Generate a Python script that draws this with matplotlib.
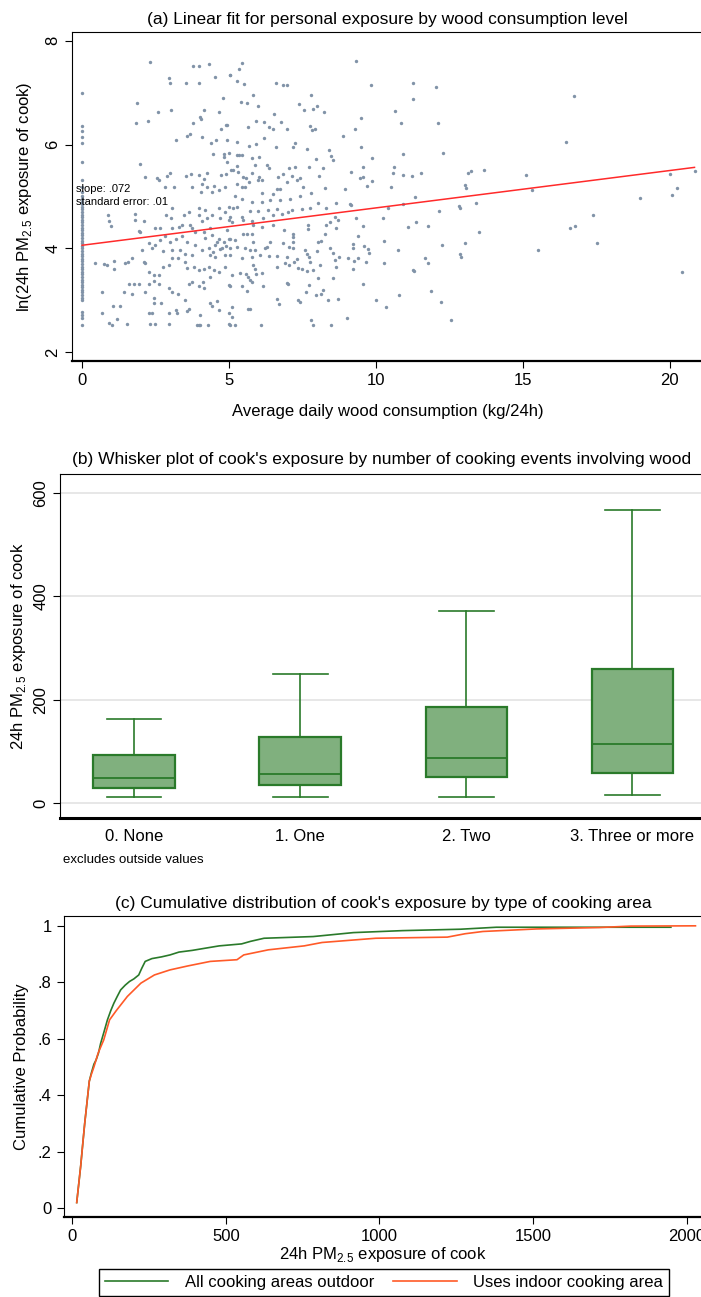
import numpy as np
import matplotlib
matplotlib.use('Agg')
import matplotlib.pyplot as plt
from matplotlib.lines import Line2D

plt.rcParams['font.family'] = ['Liberation Sans Narrow', 'Liberation Sans', 'DejaVu Sans']

# (a) 散点: 木柴消耗量 vs ln(PM2.5)
zero_use_ln = [7.0, 6.36, 6.26, 6.15, 6.04, 5.66, 5.32, 5.18, 5.08,
               5.0, 4.95, 4.9, 4.85, 4.8, 4.75, 4.7, 4.65, 4.6, 4.55, 4.5, 4.45, 4.4,
               4.35, 4.3, 4.25, 4.2, 4.15, 4.1, 4.05, 4.0, 3.95, 3.9, 3.85, 3.8, 3.75,
               3.7, 3.65, 3.6, 3.55, 3.5, 3.45, 3.4, 3.35, 3.3, 3.25, 3.2, 3.15, 3.1,
               3.05, 3.0, 2.78, 2.72, 2.65, 2.53]

wood_pts = [
    (2.31, 7.60), (2.95, 7.28), (2.99, 7.18), (3.55, 7.18), (3.76, 7.52), (3.98, 7.52), (4.33, 7.56),
    (3.97, 7.19), (4.54, 7.31), (5.04, 7.34), (1.88, 6.80), (2.57, 6.62), (3.02, 6.66), (1.84, 6.42),
    (2.23, 6.46), (4.15, 6.67), (4.00, 6.53), (4.05, 6.50), (3.76, 6.42), (4.65, 6.62), (4.80, 6.89),
    (4.72, 6.31), (4.91, 6.37), (4.95, 6.38), (3.21, 6.09), (3.57, 6.17), (3.69, 6.21), (4.08, 6.14),
    (4.40, 6.03), (4.55, 6.08), (4.94, 6.08), (1.98, 5.63), (4.44, 5.82), (4.82, 5.82), (4.84, 5.77),
    (4.99, 5.83), (4.93, 5.67), (2.14, 5.38), (2.56, 5.36), (2.63, 5.31), (2.90, 5.39), (2.98, 5.46),
    (2.83, 5.19), (3.12, 5.18), (3.54, 5.40), (3.71, 5.43), (3.97, 5.41), (4.25, 5.46), (4.14, 5.34),
    (4.08, 5.25), (3.74, 5.19), (4.25, 5.19), (4.48, 5.20), (4.74, 5.41), (4.91, 5.43), (4.65, 5.13),
    (4.87, 5.19), (5.08, 5.51), (4.06, 5.08), (4.42, 5.09),
    (0.88, 4.64), (0.91, 4.53), (1.00, 4.43), (1.81, 4.66), (1.79, 4.55), (2.10, 4.53), (2.87, 4.64),
    (3.03, 4.59), (3.46, 4.64), (3.40, 4.46), (3.29, 4.42), (1.93, 4.33), (1.98, 4.31), (2.49, 4.39),
    (0.45, 3.71), (0.74, 3.70), (0.85, 3.67), (1.08, 3.76), (1.08, 3.60), (1.47, 3.71), (1.55, 3.74),
    (1.70, 3.81), (2.10, 3.74), (2.15, 3.71), (2.29, 3.55), (2.44, 3.49), (2.63, 3.49), (2.74, 3.65),
    (2.95, 3.68), (3.06, 3.82), (3.27, 3.81), (3.51, 3.74), (3.57, 3.63), (3.80, 3.65), (3.97, 3.58),
    (4.14, 3.60), (4.31, 3.65), (4.48, 3.58), (4.65, 3.55), (4.87, 3.65), (1.59, 3.31), (1.76, 3.31),
    (1.95, 3.31), (1.42, 3.16), (1.70, 3.13), (2.29, 3.31), (2.15, 3.15), (2.44, 3.37), (2.63, 3.31),
    (2.95, 3.24), (3.06, 3.16), (3.27, 3.13), (3.63, 3.31), (3.74, 3.35), (3.97, 3.28), (4.11, 3.35),
    (4.14, 3.23), (4.37, 3.45), (4.99, 3.29), (2.44, 3.04), (2.70, 2.94), (2.46, 2.94), (2.95, 2.75),
    (3.18, 2.81), (3.23, 2.75), (3.51, 3.00), (3.57, 2.79), (3.63, 2.84), (4.03, 2.71), (4.37, 2.94),
    (4.42, 2.89), (4.59, 2.99), (4.65, 2.81), (0.68, 3.16), (0.68, 2.75), (1.04, 2.89), (1.30, 2.89),
    (1.19, 2.64), (0.91, 2.57), (1.02, 2.53), (1.53, 2.54), (2.29, 2.75), (2.38, 2.75), (2.32, 2.54),
    (2.47, 2.55), (2.95, 2.54), (3.91, 2.53), (3.97, 2.53), (4.03, 2.53), (4.29, 2.53), (4.99, 2.54),
    (5.01, 2.75), (3.97, 4.77), (4.20, 4.74), (3.97, 4.64), (4.25, 4.58), (4.08, 4.52), (4.42, 4.64),
    (4.65, 4.77), (4.87, 4.71), (4.99, 4.80), (4.71, 4.58), (4.99, 4.55), (3.68, 4.45), (3.74, 4.39),
    (3.85, 4.32), (4.14, 4.32), (4.42, 4.26), (4.65, 4.19), (4.82, 4.13), (4.99, 4.19), (4.53, 4.06),
    (4.76, 4.00), (4.31, 4.00), (4.08, 3.97), (3.85, 4.06), (3.57, 4.13), (3.40, 4.23), (3.18, 4.19),
    (3.00, 4.13), (2.83, 4.23), (2.66, 4.16), (2.49, 4.06), (2.38, 4.00), (2.27, 4.10), (2.04, 3.97),
    (3.34, 3.97), (3.51, 3.90), (3.74, 3.87), (4.37, 3.87), (4.53, 3.84), (4.87, 3.87), (5.05, 4.00),
    (3.06, 3.97), (2.77, 3.94), (2.66, 4.39), (3.06, 4.39), (3.63, 4.71), (3.06, 4.77),
    (4.60, 4.12), (4.70, 3.98), (4.45, 3.93), (4.20, 4.20), (4.90, 4.05), (4.35, 4.40), (4.95, 4.35),
    (5.03, 7.34), (5.45, 7.58), (5.35, 7.45), (5.28, 7.23), (5.51, 7.17), (6.60, 7.18), (6.85, 7.15),
    (6.98, 7.15), (9.34, 7.62), (9.85, 7.14), (5.81, 6.96), (5.41, 6.82), (5.60, 6.80), (5.98, 6.75),
    (7.80, 6.96), (7.39, 6.78), (7.54, 6.67), (7.85, 6.68), (8.00, 6.75), (8.25, 6.62), (6.54, 6.59),
    (5.91, 6.46), (6.19, 6.44), (6.78, 6.43), (5.66, 6.33), (6.35, 6.33), (6.51, 6.30), (6.96, 6.31),
    (7.76, 6.35), (7.82, 6.28), (7.94, 6.30), (9.29, 6.31), (9.51, 6.52), (8.89, 6.17), (6.19, 6.12),
    (5.29, 6.06), (5.69, 5.97), (5.92, 6.01), (7.24, 6.03), (7.19, 5.96), (6.60, 5.95), (7.64, 5.92),
    (8.40, 5.90), (9.48, 5.96), (5.26, 5.80), (5.35, 5.80), (5.43, 5.80), (5.80, 5.74), (6.02, 5.76),
    (8.49, 5.78), (8.55, 5.70), (7.95, 5.72), (9.86, 5.74), (5.13, 5.52), (5.28, 5.59), (5.32, 5.48),
    (5.90, 5.61), (6.31, 5.61), (6.37, 5.54), (7.05, 5.54), (7.24, 5.56), (7.71, 5.56), (8.21, 5.54),
    (9.55, 5.56), (9.15, 5.48), (5.49, 5.38), (5.58, 5.35), (5.79, 5.46), (6.01, 5.38), (6.66, 5.38),
    (6.85, 5.43), (7.13, 5.40), (7.41, 5.35), (8.07, 5.40), (9.46, 5.36), (9.57, 5.38), (5.28, 5.25),
    (5.69, 5.27), (5.99, 5.31), (6.11, 5.31), (6.98, 5.27), (7.30, 5.32), (9.71, 5.21), (9.87, 5.29),
    (5.43, 5.19), (5.56, 5.19), (6.62, 5.14), (6.74, 5.14), (7.53, 5.19), (8.27, 5.16), (8.95, 5.14),
    (6.14, 5.07), (6.51, 5.05), (7.81, 5.06),
    (5.20, 5.00), (5.46, 4.96), (5.77, 4.89), (6.11, 4.90), (6.40, 4.93), (6.74, 4.93), (7.08, 4.96),
    (7.42, 5.00), (8.04, 4.87), (8.66, 4.87), (9.12, 4.86), (5.15, 4.77), (5.26, 4.80), (5.71, 4.72),
    (6.00, 4.73), (6.34, 4.74), (6.62, 4.76), (7.02, 4.71), (7.13, 4.74), (7.47, 4.76), (7.76, 4.77),
    (8.32, 4.77), (9.17, 4.84), (5.03, 4.61), (5.43, 4.61), (5.49, 4.55), (5.77, 4.53), (6.17, 4.58),
    (6.51, 4.64), (6.79, 4.66), (8.61, 4.61), (8.72, 4.55), (9.32, 4.59), (10.25, 4.59), (5.09, 4.51),
    (5.83, 4.45), (6.11, 4.42), (6.51, 4.45), (7.70, 4.46), (8.32, 4.46), (8.44, 4.50), (9.57, 4.44),
    (8.66, 4.39), (6.87, 4.35), (7.70, 4.37), (5.03, 4.19), (5.20, 4.16), (5.49, 4.27), (5.62, 4.27),
    (5.80, 4.27), (7.19, 4.27), (7.19, 4.21), (8.27, 4.27), (9.40, 4.23), (7.19, 4.13), (6.40, 4.13),
    (6.28, 4.03), (6.83, 4.10), (8.04, 4.13), (8.15, 4.14), (10.27, 4.14), (5.83, 4.12), (5.26, 4.03),
    (5.54, 4.00), (5.71, 3.97), (5.88, 3.97), (6.22, 4.00), (7.05, 4.03), (7.17, 4.00), (7.59, 3.97),
    (8.00, 3.95), (8.44, 4.00), (9.21, 4.08), (9.23, 4.00), (9.60, 4.05), (9.72, 3.99), (5.03, 3.87),
    (5.43, 3.82), (5.77, 3.84), (6.05, 3.87), (6.37, 3.86), (6.62, 3.86), (6.98, 3.84), (7.30, 3.79),
    (7.64, 3.90), (7.73, 3.84), (8.55, 3.92), (8.73, 3.84), (8.61, 3.78), (9.06, 3.81), (9.25, 3.76),
    (9.38, 3.82), (9.77, 3.92), (9.68, 3.74), (6.90, 3.71), (7.05, 3.68), (7.22, 3.74), (7.36, 3.63),
    (7.47, 3.60), (7.64, 3.56), (7.76, 3.73), (8.10, 3.68), (7.87, 3.58), (5.83, 3.68), (5.88, 3.61),
    (6.62, 3.65), (8.66, 3.65), (9.23, 3.60), (10.27, 3.71), (5.09, 3.49), (5.37, 3.52), (5.58, 3.50),
    (5.66, 3.45), (5.71, 3.39), (5.77, 3.36), (5.92, 3.50), (6.11, 3.52), (6.17, 3.28), (6.96, 3.34),
    (7.02, 3.31), (8.04, 3.43), (8.53, 3.43), (9.55, 3.31), (5.03, 3.28), (5.43, 3.28), (5.60, 3.18),
    (7.62, 3.15), (7.73, 3.29), (7.96, 3.10), (8.15, 3.13), (8.21, 3.20), (8.38, 3.00), (8.72, 3.02),
    (6.62, 3.02), (6.71, 2.92), (7.36, 3.00), (7.42, 2.97), (9.99, 3.00), (10.33, 2.87), (5.66, 2.84),
    (5.71, 2.84), (5.09, 2.87), (5.09, 2.68), (5.03, 2.53), (5.20, 2.53), (6.09, 2.53), (7.78, 2.62),
    (7.87, 2.53), (8.46, 2.53), (9.02, 2.66),
    (11.25, 7.18), (11.25, 6.88), (12.06, 7.11), (16.75, 6.94), (10.66, 6.65), (10.87, 6.42),
    (12.12, 6.42), (16.49, 6.06), (10.91, 5.82), (12.29, 5.83), (10.62, 5.57), (10.60, 5.46),
    (10.92, 5.41), (11.22, 5.39), (11.55, 5.45), (10.51, 5.19), (11.35, 4.99), (13.04, 5.23),
    (13.08, 5.16), (13.13, 5.45), (13.24, 5.49), (13.70, 5.51), (15.13, 5.41), (15.33, 5.13),
    (10.93, 4.86), (10.42, 4.78), (12.14, 4.73), (12.84, 4.82), (12.86, 4.78), (13.42, 4.87),
    (11.11, 4.42), (11.38, 4.50), (11.78, 4.44), (13.51, 4.31), (10.74, 3.96), (12.27, 4.06),
    (13.03, 4.11), (12.86, 3.89), (12.91, 3.84), (11.68, 3.82), (11.76, 3.71), (11.25, 3.59),
    (11.29, 3.57), (10.78, 3.11), (11.89, 3.18), (12.23, 2.97), (12.57, 2.62), (15.51, 3.96),
    (16.60, 4.39), (16.78, 4.43), (17.40, 4.65), (17.54, 4.10), (18.98, 4.97), (20.00, 5.43),
    (20.08, 5.02), (20.25, 5.16), (20.41, 3.55), (20.85, 5.49),
]
fit_intercept = 4.06
fit_slope = 0.072
fit_se = 0.01

# (b) 箱线图
box_labels = ['0. None', '1. One', '2. Two', '3. Three or more']
box_whislo = [12, 12, 12, 15]
box_q1 = [30, 35, 51, 59]
box_med = [48, 56, 88, 114]
box_q3 = [93, 128, 185, 260]
box_whishi = [163, 249, 372, 566]

# (c) 累积分布
outdoor_x = [14, 20, 27, 33, 40, 47, 55, 62, 70, 77, 85, 92, 103, 114, 125, 135, 146, 157, 172, 186,
             200, 216, 226, 237, 259, 290, 318, 347, 390, 434, 478, 551, 580, 624, 784, 915, 1075,
             1264, 1381, 1949]
outdoor_y = [0.02, 0.08, 0.15, 0.22, 0.30, 0.37, 0.45, 0.48, 0.51, 0.525, 0.55, 0.584, 0.625, 0.667,
             0.70, 0.726, 0.75, 0.773, 0.79, 0.803, 0.812, 0.826, 0.85, 0.874, 0.884, 0.89, 0.897,
             0.907, 0.913, 0.921, 0.929, 0.936, 0.945, 0.956, 0.962, 0.976, 0.983, 0.988, 0.995,
             0.995]
indoor_x = [14, 20, 27, 33, 40, 47, 55, 62, 70, 84, 102, 121, 143, 179, 223, 267, 318, 376, 449, 536,
            558, 638, 755, 813, 988, 1221, 1279, 1337, 1512, 1716, 1818, 2029]
indoor_y = [0.02, 0.08, 0.15, 0.22, 0.30, 0.37, 0.45, 0.475, 0.50, 0.55, 0.596, 0.667, 0.70, 0.75,
            0.797, 0.826, 0.844, 0.858, 0.874, 0.88, 0.897, 0.915, 0.929, 0.941, 0.956, 0.96, 0.972,
            0.98, 0.989, 0.994, 0.999, 1.0]

pm = r'PM$_{\mathregular{2.5}}$'
green = '#2a7a2a'
orange = '#ff5a28'

fig = plt.figure(figsize=(7.01, 12.97), dpi=100)

# ---- (a)
ax1 = fig.add_axes([0.1033, 0.7217, 0.9, 0.2536])
wx = [p[0] for p in wood_pts] + [0.0] * len(zero_use_ln)
wy = [p[1] for p in wood_pts] + zero_use_ln
ax1.scatter(wx, wy, s=6, color='#8193a8', linewidths=0, zorder=2)
xx = np.array([0.0, max(wx)])
ax1.plot(xx, fit_intercept + fit_slope * xx, color='#ff2a2a', lw=1.1, zorder=3)
ax1.text(-0.2, 5.08, 'slope: .072', fontsize=8, family=['Liberation Sans', 'DejaVu Sans'], zorder=4)
ax1.text(-0.2, 4.84, 'standard error: .01', fontsize=8, family=['Liberation Sans', 'DejaVu Sans'], zorder=4)
ax1.set_xlim(-0.33, 21.15)
ax1.set_ylim(1.83, 8.17)
ax1.set_xticks([0, 5, 10, 15, 20])
ax1.set_yticks([2, 4, 6, 8])
ax1.tick_params(axis='y', labelrotation=90, labelsize=12, length=5)
ax1.tick_params(axis='x', labelsize=12, length=5)
for t in ax1.get_yticklabels():
    t.set_va('center')
ax1.spines['right'].set_visible(False)
ax1.spines['bottom'].set_linewidth(1.6)
ax1.set_title('(a) Linear fit for personal exposure by wood consumption level', fontsize=12.5, pad=6)
ax1.set_xlabel('Average daily wood consumption (kg/24h)', fontsize=12, labelpad=12)
ax1.set_ylabel('ln(24h ' + pm + ' exposure of cook)', fontsize=12, labelpad=8)

# ---- (b)
ax2 = fig.add_axes([0.0856, 0.3693, 0.916, 0.2652])
stats = []
for i in range(len(box_labels)):
    stats.append({'med': box_med[i], 'q1': box_q1[i], 'q3': box_q3[i],
                  'whislo': box_whislo[i], 'whishi': box_whishi[i], 'fliers': []})
ax2.bxp(stats, positions=range(len(box_labels)), widths=0.49, patch_artist=True,
        showfliers=False, capwidths=0.33,
        boxprops=dict(facecolor='#80b07e', edgecolor=green, linewidth=1.6),
        medianprops=dict(color=green, linewidth=1.3),
        whiskerprops=dict(color=green, linewidth=1.2),
        capprops=dict(color=green, linewidth=1.2))
ax2.set_xlim(-0.446, 3.42)
ax2.set_ylim(-29, 636)
ax2.set_yticks([0, 200, 400, 600])
ax2.yaxis.grid(True, color='#e3e3e3', lw=1.2)
ax2.set_axisbelow(True)
ax2.set_xticks(range(len(box_labels)))
ax2.set_xticklabels(box_labels)
ax2.tick_params(axis='x', length=0, labelsize=12, pad=8)
ax2.tick_params(axis='y', labelrotation=90, labelsize=12, length=5)
for t in ax2.get_yticklabels():
    t.set_va('center')
ax2.spines['right'].set_visible(False)
ax2.spines['bottom'].set_linewidth(2.2)
ax2.set_title("(b) Whisker plot of cook's exposure by number of cooking events involving wood",
              fontsize=12.5, pad=7)
ax2.set_ylabel('24h ' + pm + ' exposure of cook', fontsize=12, labelpad=4)
ax2.text(0.005, -0.13, 'excludes outside values', transform=ax2.transAxes, fontsize=9.5)

# ---- (c)
ax3 = fig.add_axes([0.0906, 0.0617, 0.912, 0.2321])
ax3.plot(outdoor_x, outdoor_y, color=green, lw=1.2, label='All cooking areas outdoor')
ax3.plot(indoor_x, indoor_y, color=orange, lw=1.2, label='Uses indoor cooking area')
ax3.set_xlim(-29, 2053)
ax3.set_ylim(-0.031, 1.035)
ax3.set_xticks([0, 500, 1000, 1500, 2000])
ax3.set_yticks([0, 0.2, 0.4, 0.6, 0.8, 1.0])
ax3.set_yticklabels(['0', '.2', '.4', '.6', '.8', '1'])
ax3.tick_params(labelsize=12, length=5)
ax3.spines['right'].set_visible(False)
ax3.spines['bottom'].set_linewidth(1.6)
ax3.set_title("(c) Cumulative distribution of cook's exposure by type of cooking area",
              fontsize=12.5, pad=6)
ax3.set_xlabel('24h ' + pm + ' exposure of cook', fontsize=12, labelpad=1)
ax3.set_ylabel('Cumulative Probability', fontsize=12, labelpad=6)

handles = [Line2D([], [], color=green, lw=1.2), Line2D([], [], color=orange, lw=1.2)]
fig.legend(handles, ['All cooking areas outdoor', 'Uses indoor cooking area'],
           loc='upper left', bbox_to_anchor=(99 / 701, 0, 570 / 701, 1 - 1269 / 1297),
           mode='expand', ncol=2, fontsize=12, frameon=True, fancybox=False,
           edgecolor='black', framealpha=1, handlelength=3.8, handletextpad=1.0,
           borderaxespad=0, borderpad=0.35, columnspacing=2.5)

fig.savefig('out.png', dpi=100)
